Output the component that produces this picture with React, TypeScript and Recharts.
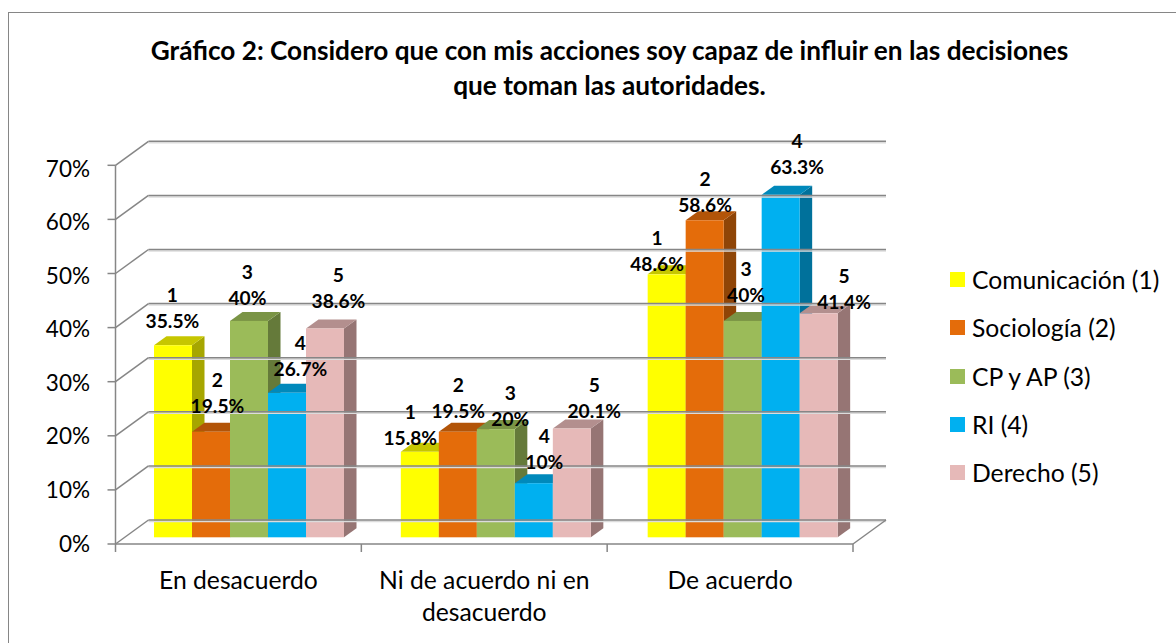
import React from 'react';
import { ComposedChart, Bar, Line, XAxis, YAxis, Legend, LabelList } from 'recharts';

const categories = ['En desacuerdo', 'Ni de acuerdo ni en desacuerdo', 'De acuerdo'];
const comunicacion = [35.5, 15.8, 48.6];
const sociologia = [19.5, 19.5, 58.6];
const cpAp = [40, 20, 40];
const ri = [26.7, 10, 63.3];
const derecho = [38.6, 20.1, 41.4];
const yTicks = [0, 10, 20, 30, 40, 50, 60, 70];

const seriesNames = ['Comunicación (1)', 'Sociología (2)', 'CP y AP (3)', 'RI (4)', 'Derecho (5)'];
const seriesValues = [comunicacion, sociologia, cpAp, ri, derecho];
const seriesKeys = ['s1', 's2', 's3', 's4', 's5'];
const seriesNumbers = ['1', '2', '3', '4', '5'];
const frontColors = ['#FFFF00', '#E46C0A', '#9BBB59', '#00B0F0', '#E6B9B8'];
const topColors = ['#C6C600', '#B25408', '#7A9445', '#0089BB', '#B38F8E'];
const sideColors = ['#A6A600', '#8F4507', '#657A3A', '#00719B', '#967574'];

// hand-placed data label offsets from each category centre / value point
const labelDx = [[-66, -74, -73], [-21, -26, -25], [9, 26, 16], [62, 60, 67], [100, 110, 114]];
const labelDy = [[-31, -21.5, -18], [-33.5, -28.5, -22], [-30.6, -17, -33.6], [-30.6, -28, -35.5], [-35, -25, -19]];

const rows = categories.map((category, i) => {
  const row: Record<string, string | number> = { category };
  seriesKeys.forEach((k, s) => { row[k] = seriesValues[s][i]; });
  return row;
});

const FONT = 'Lato, sans-serif';
const GRID = '#868686';
const SHADOW = '#dcdcdc';
const PLOT_LEFT = 115.5;
const PLOT_RIGHT = 853;
const DEPTH_X = 33;
const DEPTH_Y = 24;
const BAR_SHIFT_X = 10;
const BAR_SHIFT_Y = 6.7;
const BAR_DEPTH_X = 12.5;
const BAR_DEPTH_Y = 9;
const AXIS_FONT = 24.7;
const Y_FONT = 22.5;

const YTick = (props: any) => {
  const { y, payload } = props;
  const bx = PLOT_LEFT + DEPTH_X;
  const by = y - DEPTH_Y;
  const labelShift = -1 + (4 * payload.value) / 70;
  return (
    <g>
      <line x1={bx} x2={PLOT_RIGHT + DEPTH_X} y1={by + 1.5} y2={by + 1.5} stroke={SHADOW} strokeWidth={1.5} />
      <line x1={bx} x2={PLOT_RIGHT + DEPTH_X} y1={by} y2={by} stroke={GRID} strokeWidth={1.5} />
      <line x1={PLOT_LEFT} x2={bx} y1={y} y2={by} stroke={GRID} strokeWidth={1.5} />
      {payload.value === 0 && (
        <line x1={PLOT_RIGHT} x2={PLOT_RIGHT + DEPTH_X} y1={y} y2={by} stroke={GRID} strokeWidth={1.5} />
      )}
      <text x={90} y={y + labelShift} textAnchor="end" dominantBaseline="central" fontFamily={FONT} fontSize={Y_FONT} fill="#000">
        {`${payload.value}%`}
      </text>
    </g>
  );
};

const XTick = (props: any) => {
  const { x, payload, index } = props;
  const half = (PLOT_RIGHT - PLOT_LEFT) / categories.length / 2;
  const words = String(payload.value).split(' ');
  const lines: string[] = [];
  words.forEach((w) => {
    const last = lines[lines.length - 1];
    if (last !== undefined && (last + ' ' + w).length <= 20) lines[lines.length - 1] = last + ' ' + w;
    else lines.push(w);
  });
  const axisY = 544;
  return (
    <g>
      <line x1={x - half} x2={x - half} y1={axisY} y2={axisY + 8} stroke={GRID} strokeWidth={1.5} />
      {index === categories.length - 1 && (
        <line x1={x + half} x2={x + half} y1={axisY} y2={axisY + 8} stroke={GRID} strokeWidth={1.5} />
      )}
      {lines.map((l, i) => (
        <text key={i} x={x} y={579 + i * 32} textAnchor="middle" dominantBaseline="central" fontFamily={FONT} fontSize={AXIS_FONT} fill="#000">
          {l}
        </text>
      ))}
    </g>
  );
};

const makeShape = (s: number) => (props: any) => {
  const { x, y, width, height, index } = props;
  const X = x + BAR_SHIFT_X + index;
  const Y = y - BAR_SHIFT_Y;
  const B = Y + height;
  const R = X + width;
  const dx = BAR_DEPTH_X;
  const dy = BAR_DEPTH_Y;
  return (
    <g>
      <polygon points={`${R},${Y} ${R + dx},${Y - dy} ${R + dx},${B - dy} ${R},${B}`} fill={sideColors[s]} />
      <polygon points={`${X},${Y} ${X + dx},${Y - dy} ${R + dx},${Y - dy} ${R},${Y}`} fill={topColors[s]} />
      <rect x={X} y={Y} width={width} height={height} fill={frontColors[s]} />
    </g>
  );
};

const makeLabel = (s: number) => (props: any) => {
  const { x, y, value, index } = props;
  const lx = x + labelDx[s][index];
  const ly = y + labelDy[s][index];
  const common = {
    x: lx,
    textAnchor: 'middle' as const,
    dominantBaseline: 'central' as const,
    fontFamily: FONT,
    fontWeight: 700,
    fontSize: 19.2,
    fill: '#000',
  };
  return (
    <g>
      <text {...common} y={ly - 26}>{seriesNumbers[s]}</text>
      <text {...common} y={ly}>{`${value}%`}</text>
    </g>
  );
};

const LegendBox = (props: any) => {
  const items = (props.payload || []).filter((p: any) => p.type !== 'none');
  return (
    <div style={{ position: 'relative', fontFamily: FONT }}>
      {items.map((p: any, i: number) => (
        <div key={p.value} style={{ position: 'absolute', left: 97, top: i * 48.25, height: 15, display: 'flex', alignItems: 'center', whiteSpace: 'nowrap' }}>
          <span style={{ display: 'inline-block', width: 15, height: 15, background: p.color, marginRight: 7 }} />
          <span style={{ fontSize: AXIS_FONT, color: '#000' }}>{p.value}</span>
        </div>
      ))}
    </div>
  );
};

export default function App() {
  return (
    <div style={{ position: 'absolute', left: 0, top: 0, width: 1176, height: 643, overflow: 'hidden', background: '#fff' }}>
      <div style={{ position: 'absolute', left: 8, top: 12, width: 1180, height: 660, borderLeft: '1.5px solid #868686', borderTop: '1.5px solid #868686' }} />
      <div style={{ position: 'absolute', left: 0, width: 1219, top: 33, textAlign: 'center', fontFamily: FONT, fontWeight: 700, fontSize: 26.2, lineHeight: '35px', color: '#000', whiteSpace: 'nowrap' }}>
        Gráfico 2: Considero que con mis acciones soy capaz de influir en las decisiones
        <br />
        que toman las autoridades.
      </div>
      <div style={{ position: 'absolute', left: 0, top: 0 }}>
        <ComposedChart
          width={1176}
          height={643}
          data={rows}
          margin={{ top: 165.3, right: 0, bottom: 59, left: 45 }}
          barGap={0}
          barCategoryGap={28.5}
        >
          <YAxis
            type="number"
            domain={[0, 70]}
            ticks={yTicks}
            width={70.5}
            interval={0}
            axisLine={{ stroke: GRID, strokeWidth: 1.5 }}
            tickLine={{ stroke: GRID, strokeWidth: 1.5 }}
            tickSize={8}
            tick={YTick}
          />
          <XAxis
            dataKey="category"
            height={40}
            interval={0}
            axisLine={{ stroke: GRID, strokeWidth: 1.5 }}
            tickLine={false}
            tick={XTick}
          />
          <Legend
            layout="vertical"
            align="right"
            verticalAlign="top"
            width={323}
            itemSorter={null}
            content={LegendBox}
            wrapperStyle={{ top: 272, right: 0, left: 853, width: 323 }}
          />
          {seriesKeys.map((k, s) => (
            <Bar key={k} dataKey={k} name={seriesNames[s]} fill={frontColors[s]} shape={makeShape(s)} isAnimationActive={false} />
          ))}
          {seriesKeys.map((k, s) => (
            <Line
              key={`l${k}`}
              dataKey={k}
              stroke="none"
              dot={false}
              activeDot={false}
              legendType="none"
              isAnimationActive={false}
            >
              <LabelList dataKey={k} content={makeLabel(s)} />
            </Line>
          ))}
        </ComposedChart>
      </div>
    </div>
  );
}
